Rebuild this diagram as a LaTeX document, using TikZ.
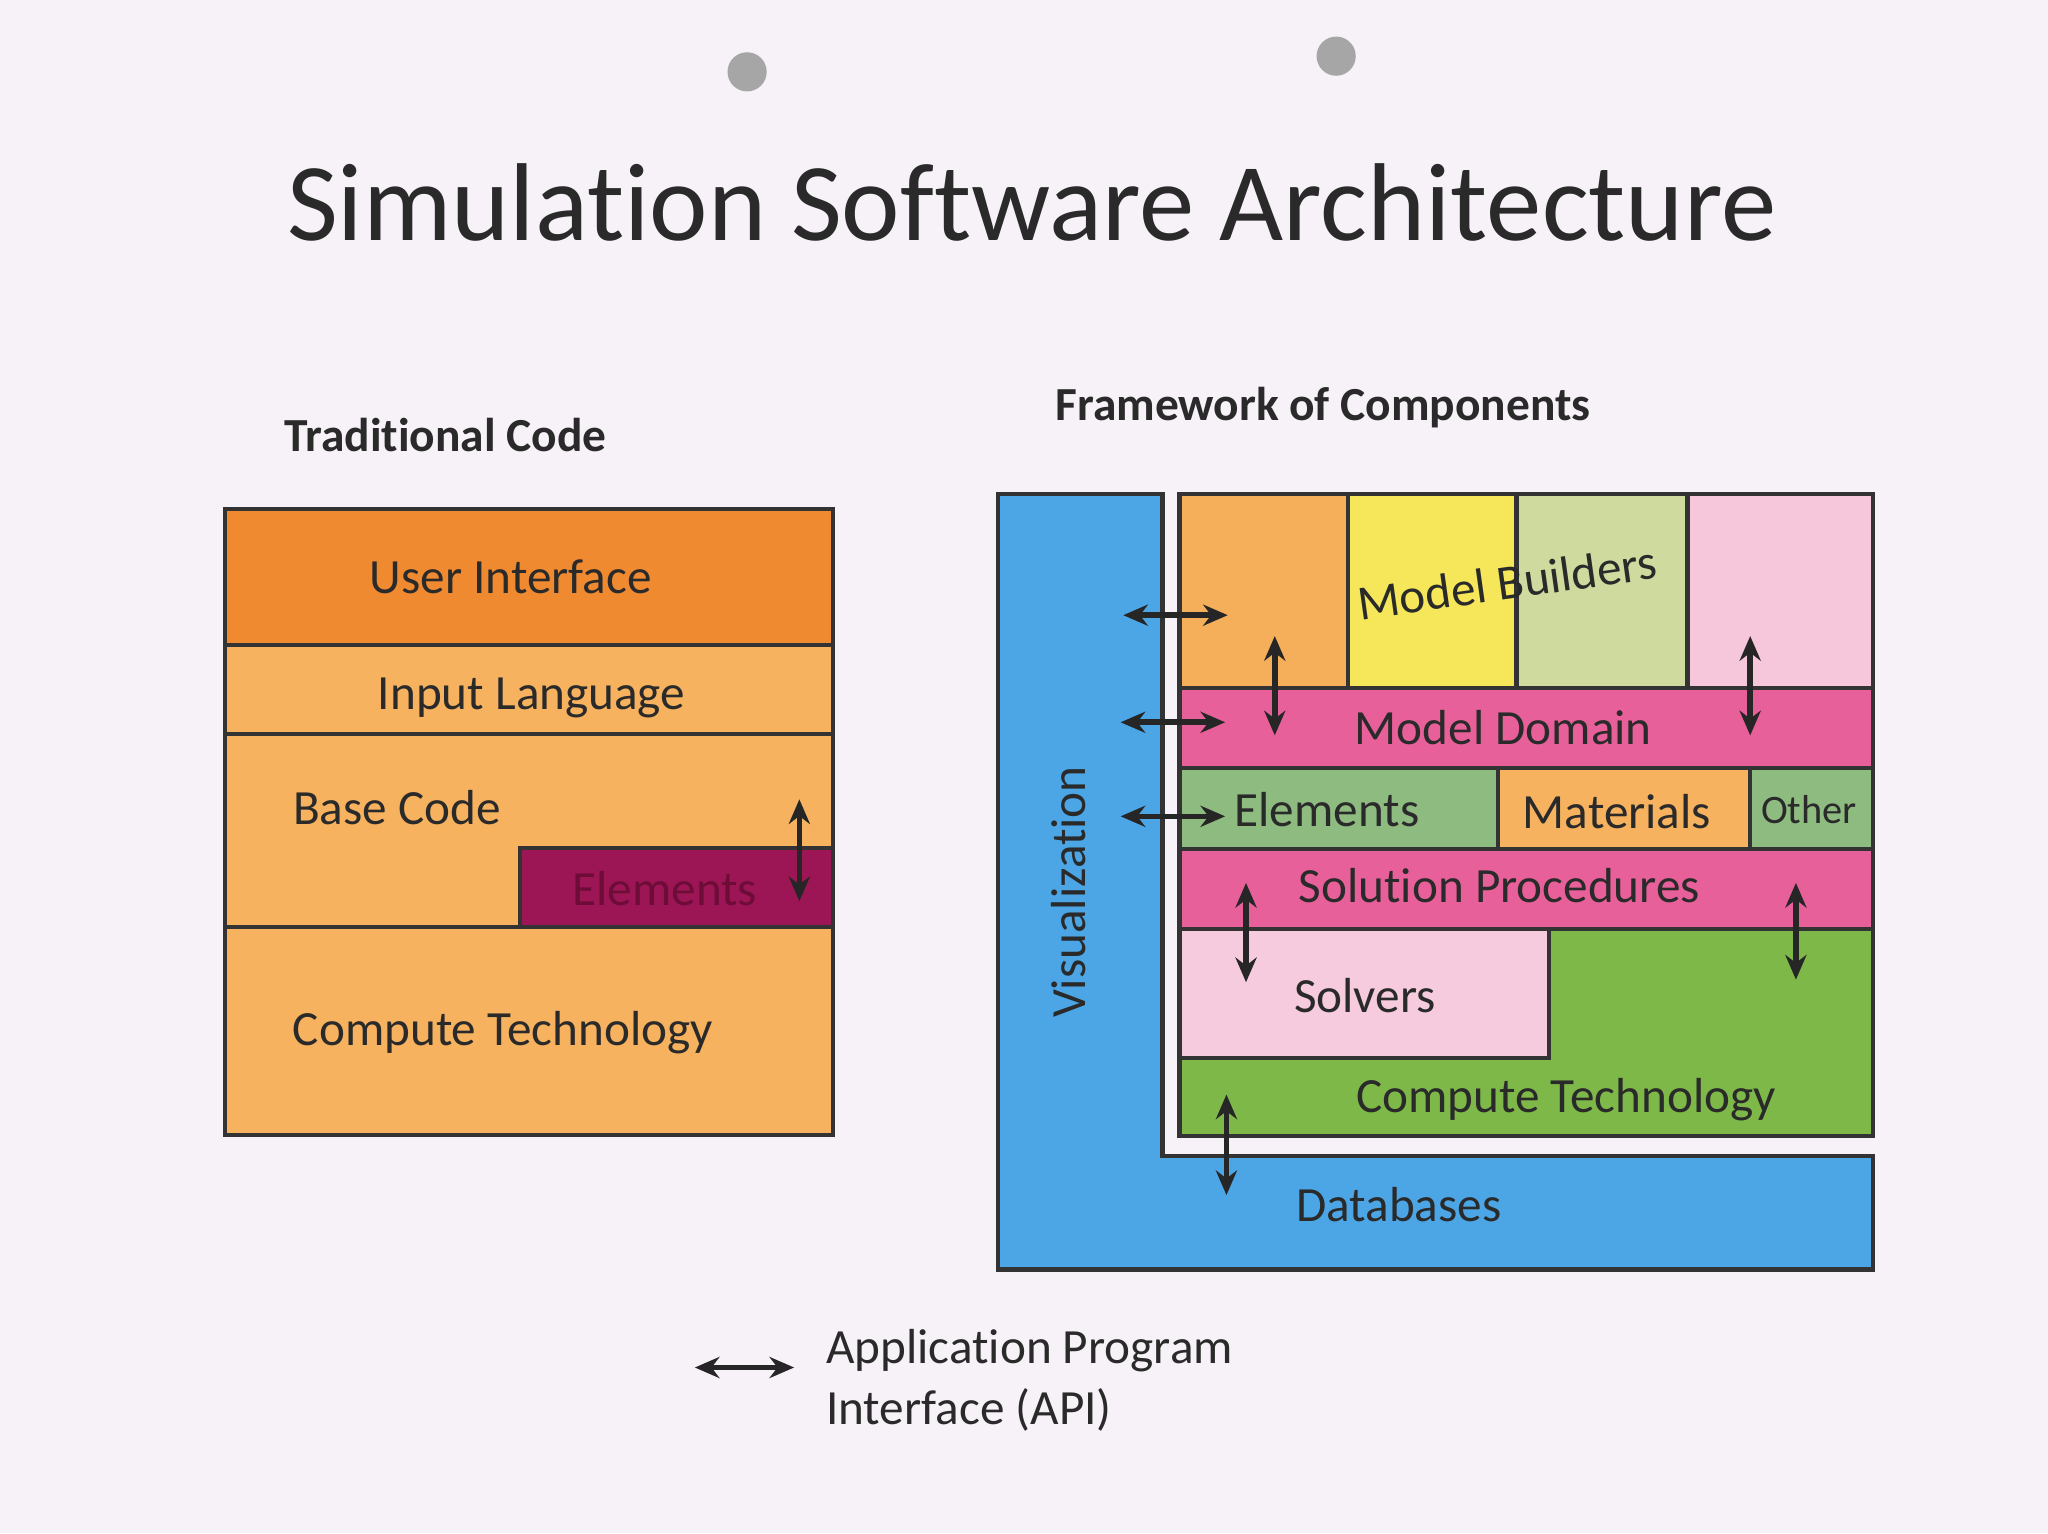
\documentclass[tikz,border=0pt]{standalone}
\usepackage{fontspec}
\setmainfont{Carlito}[RawFeature=-liga]
\usetikzlibrary{arrows.meta}
\definecolor{bg}{HTML}{F7F1F8}
\definecolor{dor}{HTML}{F08A30}
\definecolor{lor}{HTML}{F6B25E}
\definecolor{mag}{HTML}{9C1656}
\definecolor{magt}{HTML}{6E0C38}
\definecolor{vis}{HTML}{4CA6E6}
\definecolor{yel}{HTML}{F5E65A}
\definecolor{lgr}{HTML}{CFDB9E}
\definecolor{lpk}{HTML}{F6C6DA}
\definecolor{pk}{HTML}{E8609A}
\definecolor{mgr}{HTML}{8EBB80}
\definecolor{gr}{HTML}{7DB848}
\definecolor{spk}{HTML}{F5CBDD}
\definecolor{txt}{HTML}{2A2A2A}
\tikzset{
  blk/.style={draw=black!80,line width=1.2pt},
  lbl/.style={text=txt,font=\fontsize{14}{17}\selectfont,inner sep=0},
  api/.style={{Stealth[length=7pt,width=6pt]}-{Stealth[length=7pt,width=6pt]},line width=1.6pt,draw=black!85}
}
\begin{document}
\begin{tikzpicture}[x=0.01306cm,y=-0.01306cm]
\fill[bg] (0,0) rectangle (1568,1174);
\useasboundingbox (0,0) rectangle (1568,1174);
\fill[gray!70] (572,55) circle (15);
\fill[gray!70] (1023,43) circle (15);
\node[text=txt,font=\fontsize{31.5}{36}\selectfont] (title) at (790,155) {Simulation Software Architecture};
\node[text=txt,font=\bfseries\fontsize{13.5}{16}\selectfont] (h1) at (341,333) {Traditional Code};
\node[text=txt,font=\bfseries\fontsize{13.5}{16}\selectfont] (h2) at (1013,312) {Framework of Components};
% left
\draw[blk,fill=dor] (172,390) rectangle (638,494);
\draw[blk,fill=lor] (172,494) rectangle (638,562);
\draw[blk,fill=lor] (172,562) rectangle (638,710);
\draw[blk,fill=mag] (398,649) rectangle (638,710);
\draw[blk,fill=lor] (172,710) rectangle (638,869);
\node[lbl] (ui) at (391,442) {User Interface};
\node[lbl] (il) at (407,534) {Input Language};
\node[lbl] (bc) at (304,618) {Base Code};
\node[lbl,text=magt] (el) at (509,680) {Elements};
\node[lbl] (ct) at (385,791) {Compute Technology};
\coordinate (a1) at (612,612); \coordinate (a2) at (612,690);
\draw[api] (a1) -- (a2);
% right
\draw[blk,fill=vis] (764,378) -- (890,378) -- (890,885) -- (1434,885) -- (1434,972) -- (764,972) -- cycle;
\draw[blk,fill=lor!90!dor] (903,378) rectangle (1032,527);
\draw[blk,fill=yel] (1032,378) rectangle (1161,527);
\draw[blk,fill=lgr] (1161,378) rectangle (1292,527);
\draw[blk,fill=lpk] (1292,378) rectangle (1434,527);
\draw[blk,fill=pk] (903,527) rectangle (1434,588);
\draw[blk,fill=mgr] (903,588) rectangle (1147,650);
\draw[blk,fill=lor] (1147,588) rectangle (1340,650);
\draw[blk,fill=mgr] (1340,588) rectangle (1434,650);
\draw[blk,fill=pk] (903,650) rectangle (1434,711);
\draw[blk,fill=gr] (903,711) -- (1434,711) -- (1434,870) -- (903,870) -- cycle;
\draw[blk,fill=spk] (903,711) rectangle (1186,810);
\node[lbl,rotate=90] (vz) at (818,683) {Visualization};
\node[lbl] (db) at (1071,922) {Databases};
\node[lbl,rotate=8] (mb) at (1154,446) {Model Builders};
\node[lbl] (md) at (1151,557) {Model Domain};
\node[lbl] (re) at (1016,620) {Elements};
\node[lbl] (rm) at (1238,621) {Materials};
\node[lbl,font=\fontsize{11.5}{14}\selectfont] (ro) at (1385,620) {Other};
\node[lbl] (sp) at (1148,678) {Solution Procedures};
\node[lbl] (sv) at (1045,762) {Solvers};
\node[lbl] (rc) at (1199,842) {Compute Technology};
\coordinate (h1a) at (860,471); \coordinate (h1b) at (940,471);
\coordinate (h2a) at (858,553); \coordinate (h2b) at (938,553);
\coordinate (h3a) at (858,625); \coordinate (h3b) at (938,625);
\coordinate (v1a) at (976,487); \coordinate (v1b) at (976,563);
\coordinate (v2a) at (1340,487); \coordinate (v2b) at (1340,563);
\coordinate (v3a) at (954,676); \coordinate (v3b) at (954,752);
\coordinate (v4a) at (1375,676); \coordinate (v4b) at (1375,750);
\coordinate (v5a) at (939,838); \coordinate (v5b) at (939,915);
\foreach \p in {h1,h2,h3,v1,v2,v3,v4,v5} \draw[api] (\p a) -- (\p b);
% legend
\coordinate (la) at (532,1047); \coordinate (lb) at (608,1047);
\draw[api] (la) -- (lb);
\node[lbl,anchor=west,align=left,font=\fontsize{14}{17.5}\selectfont] (leg) at (632,1057) {Application Program\\Interface (API)};
\end{tikzpicture}
\end{document}
